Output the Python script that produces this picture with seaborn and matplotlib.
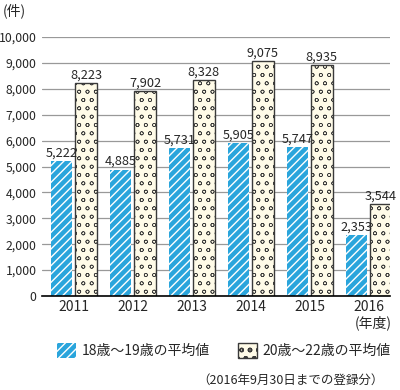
import pandas as pd
import matplotlib
matplotlib.use("Agg")
import matplotlib.pyplot as plt
import seaborn as sns
from matplotlib.patches import Patch

years = ["2011", "2012", "2013", "2014", "2015", "2016"]
avg_18_19 = [5222, 4885, 5731, 5905, 5747, 2353]
avg_20_22 = [8223, 7902, 8328, 9075, 8935, 3544]
series_names = ["18歳〜19歳の平均値", "20歳〜22歳の平均値"]

df = pd.DataFrame({
    "year": years * 2,
    "count": avg_18_19 + avg_20_22,
    "group": [series_names[0]] * 6 + [series_names[1]] * 6,
})

sns.set_style("white")
plt.rcParams["font.family"] = ["Noto Sans CJK JP", "DejaVu Sans"]

blue = "#2aa5dc"
cream = "#fffbe8"


def hatch_lw(p, lw):
    if hasattr(p, "set_hatch_linewidth"):
        p.set_hatch_linewidth(lw)
    p._hatch_linewidth = lw
    orig = p.draw

    def draw(renderer):
        with plt.rc_context({"hatch.linewidth": lw}):
            orig(renderer)
    p.draw = draw


def style_blue(p):
    p.set_facecolor(blue)
    p.set_edgecolor("white")
    p.set_hatch("////")
    p.set_linewidth(0)
    hatch_lw(p, 1.0)


def style_dots(p):
    p.set_facecolor(cream)
    p.set_edgecolor("#3a3a3a")
    p.set_hatch("oo")
    p.set_linewidth(1.0)
    hatch_lw(p, 0.45)


fig = plt.figure(figsize=(4.0, 3.9), dpi=100)
ax = fig.add_axes([0.105, 0.241, 0.87, 0.664])

sns.barplot(data=df, x="year", y="count", hue="group", hue_order=series_names,
            width=0.82, gap=0.12, legend=False, ax=ax)

for bar in ax.containers[0]:
    style_blue(bar)
for bar in ax.containers[1]:
    style_dots(bar)

for cont in ax.containers:
    ax.bar_label(cont, labels=[f"{v:,.0f}" for v in cont.datavalues],
                 padding=1, fontsize=9.2)

ax.set_ylim(0, 10000)
ax.set_xlim(-0.54, 5.36)
ax.set_yticks(range(0, 10001, 1000))
ax.set_yticklabels([f"{v:,}" for v in range(0, 10001, 1000)], fontsize=8.8)
ax.tick_params(axis="x", labelsize=10, length=0, pad=3)
ax.tick_params(axis="y", length=0, pad=4)
ax.yaxis.grid(True, color="#999999", linewidth=0.9)
ax.set_axisbelow(True)
for s in ["left", "right", "top"]:
    ax.spines[s].set_visible(False)
ax.spines["bottom"].set_color("black")
ax.spines["bottom"].set_linewidth(1.2)
ax.set_xlabel("")
ax.set_ylabel("")

fig.text(0.008, 0.972, "(件)", fontsize=10, va="center", ha="left")
fig.text(0.98, 0.172, "(年度)", fontsize=10, va="center", ha="right")

handles = [Patch(), Patch()]
style_blue(handles[0])
style_dots(handles[1])
fig.legend(handles, series_names, loc="center", bbox_to_anchor=(0.56, 0.102),
           ncol=2, frameon=False, fontsize=10, handlelength=1.4,
           handleheight=1.3, columnspacing=2.0, handletextpad=0.4)

fig.text(0.96, 0.025, "（2016年9月30日までの登録分）", fontsize=9,
         va="center", ha="right")

fig.savefig("out.png", dpi=100)
